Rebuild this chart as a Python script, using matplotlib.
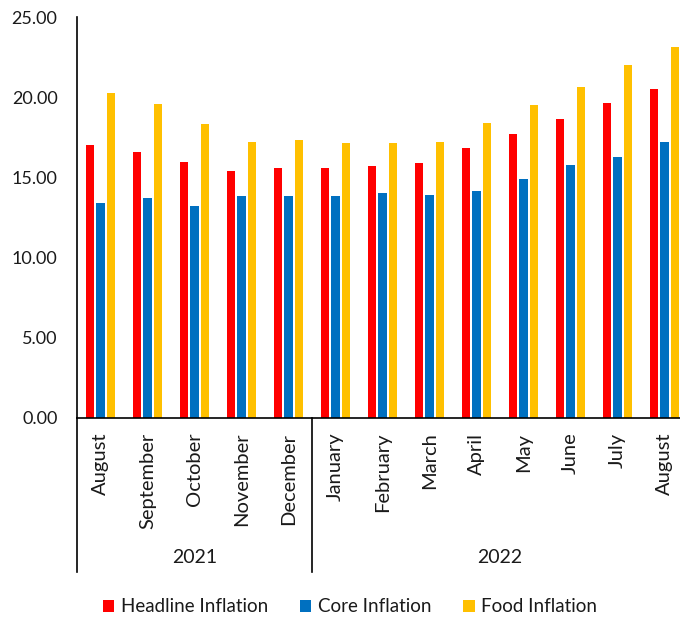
import matplotlib
matplotlib.use("Agg")
import matplotlib.pyplot as plt
import matplotlib.transforms as mtransforms
import numpy as np

plt.rcParams['font.family'] = ['Lato', 'DejaVu Sans']

months = ['August', 'September', 'October', 'November', 'December',
          'January', 'February', 'March', 'April', 'May', 'June', 'July', 'August']
years = ['2021', '2022']
year_counts = [5, 8]

headline = [17.0, 16.6, 15.98, 15.38, 15.6, 15.56, 15.69, 15.92, 16.81, 17.69, 18.62, 19.63, 20.52]
core = [13.38, 13.73, 13.23, 13.83, 13.85, 13.83, 14.0, 13.9, 14.17, 14.88, 15.75, 16.25, 17.19]
food = [20.29, 19.56, 18.33, 17.19, 17.35, 17.13, 17.13, 17.19, 18.38, 19.5, 20.63, 22.02, 23.15]

series = [('Headline Inflation', headline, '#FF0000'),
          ('Core Inflation', core, '#0070C0'),
          ('Food Inflation', food, '#FFC000')]

txt = '#1a1a1a'
fig = plt.figure(figsize=(6.8, 6.18), dpi=100)
ax = fig.add_axes([77/680, 200/618, 611/680, 401/618])

x = np.arange(len(months))
step = 0.223
width = 0.19
for i, (name, vals, col) in enumerate(series):
    ax.bar(x + (i - 1) * step, vals, width, color=col, label=name, zorder=2)

ax.set_xlim(-0.5, len(months) - 0.5)
ax.set_ylim(0, 25)
ax.set_yticks(np.arange(0, 26, 5))
ax.set_yticklabels(['%.2f' % v for v in np.arange(0, 26, 5)], fontsize=13, color=txt)
ax.tick_params(axis='y', length=0, pad=14)
ax.set_xticks(x)
ax.set_xticklabels(months, rotation=90, fontsize=14.5, color=txt, va='top', ha='center')
ax.tick_params(axis='x', length=0, pad=10.5)

for s in ['top', 'right']:
    ax.spines[s].set_visible(False)
for s in ['left', 'bottom']:
    ax.spines[s].set_linewidth(1.2)
    ax.spines[s].set_color('black')

# category group separators and year labels
trans = mtransforms.blended_transform_factory(ax.transData, ax.transAxes)
start = -0.5
bounds = [start]
for n in year_counts:
    bounds.append(bounds[-1] + n)
for b in bounds:
    ax.plot([b, b], [0, -0.384], transform=trans, color='black', lw=1.2, clip_on=False)
for yr, a, b in zip(years, bounds[:-1], bounds[1:]):
    ax.text((a + b) / 2, -0.349, yr, transform=trans, ha='center', va='center',
            fontsize=14, color=txt)

fig.legend(loc='center', bbox_to_anchor=(0.515, 0.018), ncol=3, frameon=False,
           fontsize=13.5, handlelength=0.6, handleheight=0.62, handletextpad=0.35,
           columnspacing=1.7, labelcolor=txt)

fig.savefig('out.png', dpi=100)
